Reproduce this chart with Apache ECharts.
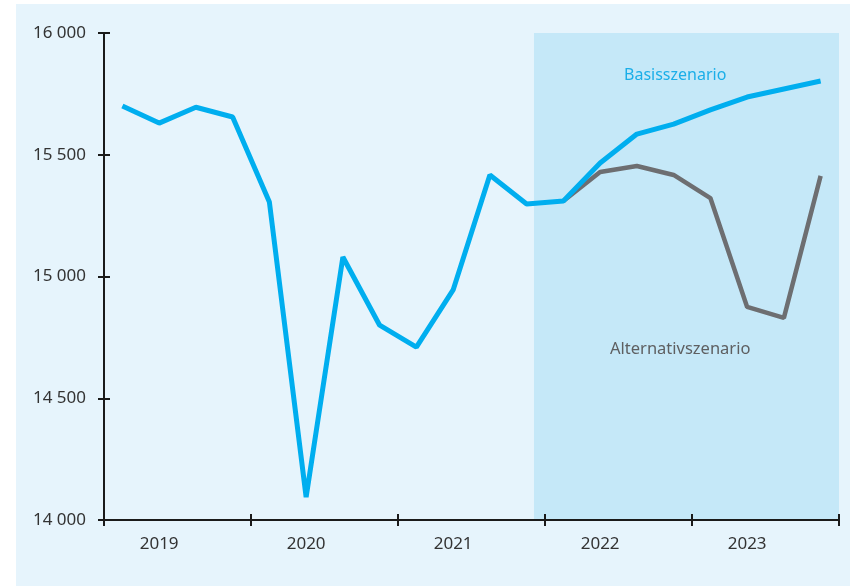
<!DOCTYPE html>
<html>
<head>
<meta charset="utf-8">
<script src="https://cdn.jsdelivr.net/npm/echarts@6/dist/echarts.min.js"></script>
<style>
  html, body { margin: 0; padding: 0; background: #ffffff; }
  #main { width: 850px; height: 586px; }
</style>
</head>
<body>
<div id="main"></div>
<script>
// Quartale 2019 bis 2023
var quarters = [
  '2019Q1', '2019Q2', '2019Q3', '2019Q4',
  '2020Q1', '2020Q2', '2020Q3', '2020Q4',
  '2021Q1', '2021Q2', '2021Q3', '2021Q4',
  '2022Q1', '2022Q2', '2022Q3', '2022Q4',
  '2023Q1', '2023Q2', '2023Q3', '2023Q4'
];
var basis = [
  15700, 15630, 15695, 15655,
  15306, 14094, 15080, 14800,
  14710, 14945, 15417, 15298,
  15310, 15466, 15585, 15626,
  15684, 15737, 15770, 15803
];
var alternativ = [
  null, null, null, null,
  null, null, null, null,
  null, null, null, null,
  15310, 15429, 15454, 15417,
  15322, 14875, 14830, 15413
];
var yTicks = [14000, 14500, 15000, 15500, 16000];
// Prognosebereich (in Quartalen ab Achsenbeginn)
var shadeFrom = 11.7;
var shadeTo = 20;

var fontFam = '"Noto Sans", sans-serif';
var axisColor = '#1a1a1a';

function fmt(v) {
  var s = String(v);
  return s.length > 3 ? s.slice(0, s.length - 3) + ' ' + s.slice(-3) : s;
}

var myChart = echarts.init(document.getElementById('main'));
var option = {
  animation: false,
  grid: { left: 104, right: 11, top: 33, bottom: 66 },
  graphic: [
    {
      type: 'rect', z: -10, silent: true,
      shape: { x: 16, y: 4, width: 834, height: 582 },
      style: { fill: '#e6f4fc' }
    },
    {
      type: 'text', z: 100, left: 624, top: 67,
      style: { text: 'Basisszenario', fill: '#1aaee8', font: '16px ' + fontFam }
    },
    {
      type: 'text', z: 100, left: 610, top: 341,
      style: { text: 'Alternativszenario', fill: '#5e5f61', font: '16.5px ' + fontFam }
    }
  ],
  xAxis: [
    {
      type: 'category',
      data: quarters,
      boundaryGap: true,
      axisLine: { show: true, lineStyle: { color: axisColor, width: 2 } },
      axisTick: { show: false },
      axisLabel: {
        interval: function (i) { return i % 4 === 1; },
        formatter: function (v) { return v.slice(0, 4); },
        color: '#333333', fontSize: 17, fontFamily: fontFam, margin: 16
      },
      splitLine: { show: false },
      z: 5
    },
    {
      // Tick-Achse, 6px nach innen versetzt: Ticks kreuzen die Linie
      type: 'category',
      data: quarters,
      boundaryGap: true,
      position: 'bottom',
      offset: -6,
      axisLine: { show: false },
      axisTick: {
        show: true, length: 12, interval: 3,
        lineStyle: { color: axisColor, width: 2 }
      },
      axisLabel: { show: false },
      splitLine: { show: false },
      z: 5
    },
    {
      type: 'value', min: 0, max: 20, show: false
    }
  ],
  yAxis: [
    {
      type: 'value', min: 14000, max: 16000, interval: 500,
      axisLine: { show: true, lineStyle: { color: axisColor, width: 2 } },
      axisTick: { show: true, length: 6, lineStyle: { color: axisColor, width: 2 } },
      axisLabel: {
        formatter: fmt,
        color: '#333333', fontSize: 17, fontFamily: fontFam, margin: 18
      },
      splitLine: { show: false },
      z: 5
    },
    {
      // Tick-Achse, 6px nach innen versetzt
      type: 'value', min: 14000, max: 16000, interval: 500,
      position: 'left', offset: -6,
      axisLine: { show: false },
      axisTick: { show: true, length: 12, lineStyle: { color: axisColor, width: 2 } },
      axisLabel: { show: false },
      splitLine: { show: false },
      z: 5
    }
  ],
  series: [
    {
      name: 'Prognose',
      type: 'line',
      xAxisIndex: 2,
      yAxisIndex: 1,
      data: [],
      silent: true,
      markArea: {
        silent: true,
        itemStyle: { color: '#c5e8f8' },
        data: [[
          { xAxis: shadeFrom, yAxis: yTicks[0] },
          { xAxis: shadeTo, yAxis: yTicks[yTicks.length - 1] }
        ]]
      },
      z: -1
    },
    {
      name: 'Achse',
      type: 'line',
      xAxisIndex: 1,
      yAxisIndex: 1,
      data: [],
      silent: true
    },
    {
      name: 'Alternativszenario',
      type: 'line',
      data: alternativ,
      showSymbol: false,
      lineStyle: { color: '#6d6e71', width: 4.5 },
      z: 3
    },
    {
      name: 'Basisszenario',
      type: 'line',
      data: basis,
      showSymbol: false,
      lineStyle: { color: '#00aeef', width: 5 },
      z: 4
    }
  ]
};
myChart.setOption(option);
</script>
</body>
</html>
